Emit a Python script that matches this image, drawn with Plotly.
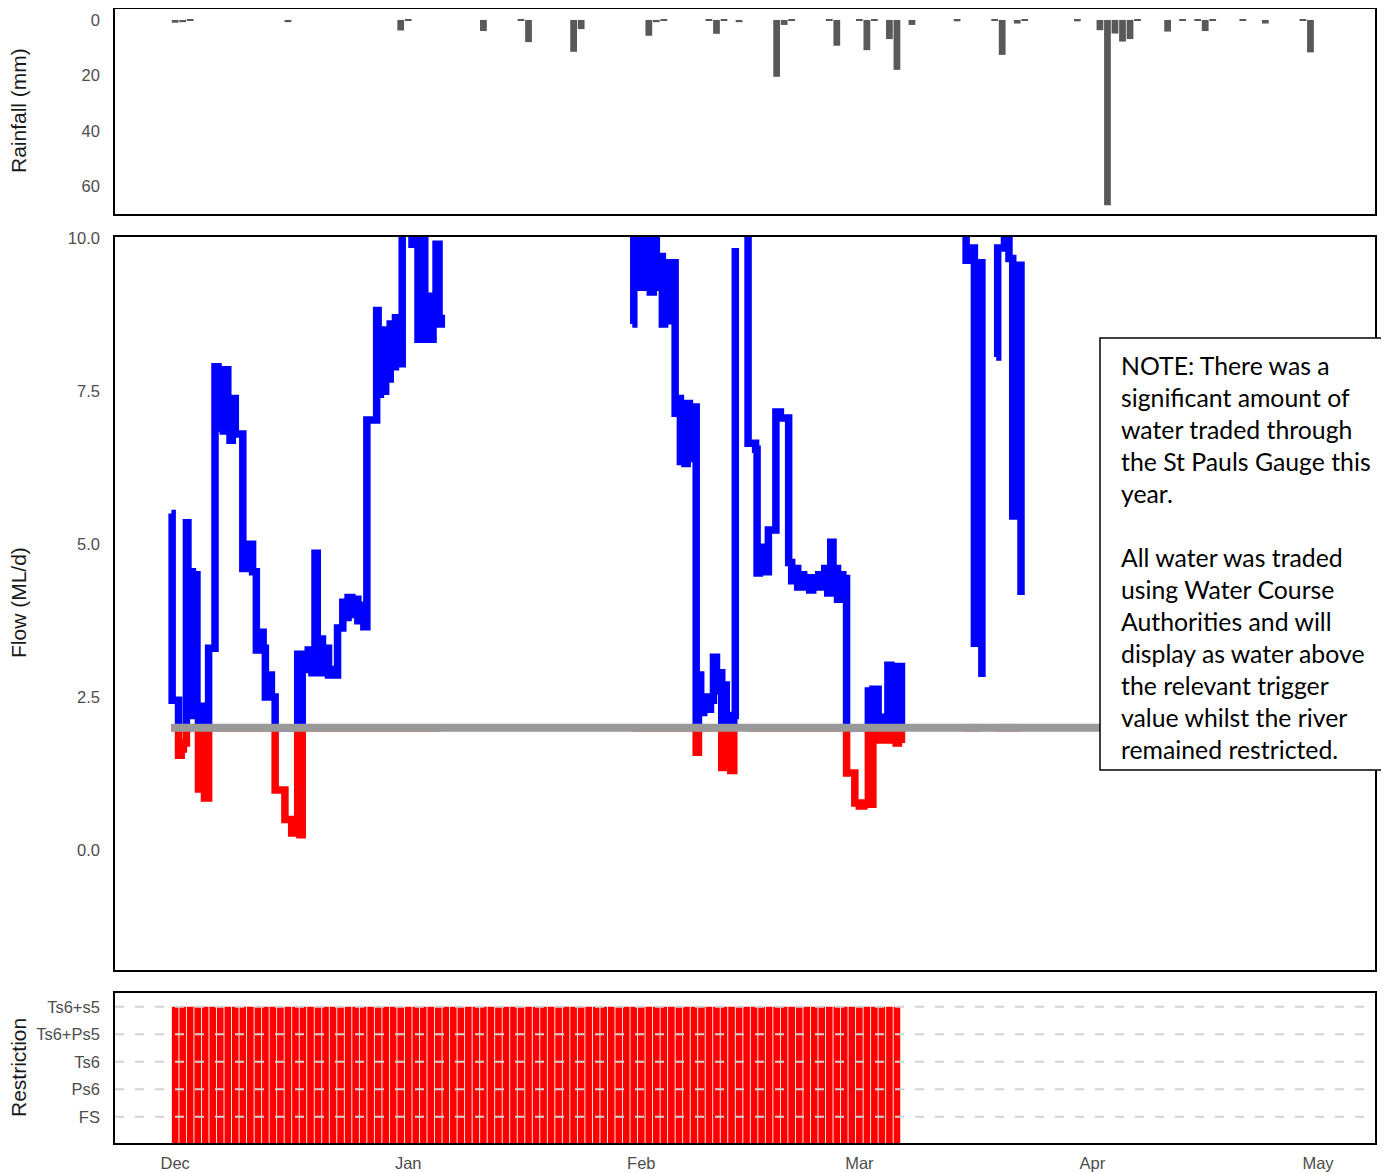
import numpy as np
import pandas as pd
import plotly.graph_objects as go
from plotly.subplots import make_subplots

# daily rainfall (mm)
rain_date = ["2019-12-01", "2019-12-02", "2019-12-03", "2019-12-16", "2019-12-31",
             "2020-01-01", "2020-01-11", "2020-01-16", "2020-01-17", "2020-01-23",
             "2020-01-24", "2020-02-02", "2020-02-03", "2020-02-04", "2020-02-10",
             "2020-02-11", "2020-02-12", "2020-02-14", "2020-02-19", "2020-02-20",
             "2020-02-21", "2020-02-26", "2020-02-27", "2020-03-01", "2020-03-02",
             "2020-03-03", "2020-03-05", "2020-03-06", "2020-03-08", "2020-03-14",
             "2020-03-19", "2020-03-20", "2020-03-22", "2020-03-23", "2020-03-30",
             "2020-04-02", "2020-04-03", "2020-04-04", "2020-04-05", "2020-04-06",
             "2020-04-07", "2020-04-11", "2020-04-13", "2020-04-15", "2020-04-16",
             "2020-04-17", "2020-04-21", "2020-04-24", "2020-04-29", "2020-04-30"]
rain_mm = [1.0, 0.8, 0.4, 0.8, 3.8,
           0.3, 4.0, 0.3, 8.0, 11.5,
           3.3, 5.7, 0.8, 0.3, 0.3,
           5.0, 0.3, 0.8, 20.5, 1.8,
           0.3, 0.3, 9.3, 0.3, 10.9,
           0.3, 6.9, 18.0, 1.8, 0.5,
           0.3, 12.6, 1.3, 0.3, 0.5,
           3.7, 66.8, 4.9, 7.8, 6.9,
           0.3, 4.2, 0.3, 0.3, 4.0,
           0.3, 0.3, 1.3, 0.3, 11.7]

# flow (ML/d), time in days after 1 Dec 2019, None = no data
flow_day = [-0.5, -0.4, 0.45, 0.8, 1.1, 1.5, 1.7, 2.0, 2.3, 2.6, 2.9, 3.1, 3.3, 3.5, 3.7,
            3.9, 4.1, 4.3, 4.45, 5.3, 5.7, 5.9, 6.1, 6.4, 6.7, 7.0, 7.3, 7.6, 8.0, 9.0,
            9.3, 9.6, 9.9, 10.3, 10.8, 11.2, 11.7, 12.0, 12.4, 12.8, 13.3, 14.6, 15.5, 15.9,
            16.3, 16.6, 16.9, 17.3, 17.7, 18.2, 18.6, 18.9, 19.2, 19.6, 20.0, 20.4, 20.8,
            21.2, 21.6, 22.3, 22.7, 23.0, 23.5, 23.9, 24.3, 24.7, 25.1, 25.5, 26.8, 27.0,
            27.3, 27.6, 28.0, 28.3, 28.6, 29.0, 29.3, 29.7, 30.2, 31.5, 31.8, 32.3, 32.7,
            33.2, 33.6, 34.0, 34.3, 34.7, 35.1, 35.4, 35.5,
            60.8, 61.0, 61.5, 61.8, 62.3, 62.7, 63.2, 63.6, 64.0, 64.4, 64.8, 65.1, 65.5,
            65.8, 66.5, 66.9, 67.2, 67.5, 67.8, 68.1, 68.4, 68.7, 69.3, 69.6, 69.9, 70.3,
            70.7, 71.2, 71.6, 72.0, 72.4, 72.7, 73.0, 73.3, 73.6, 73.9, 74.3, 74.5, 74.6,
            76.0, 76.2, 77.2, 77.4, 77.7, 78.0, 78.3, 78.6, 78.9, 79.9, 80.5, 81.6, 82.0,
            82.4, 82.8, 83.2, 83.6, 84.0, 84.4, 84.8, 85.2, 85.6, 86.0, 86.4, 86.8, 87.2,
            87.5, 87.8, 88.1, 88.4, 88.8, 89.3, 90.4, 91.0, 91.6, 92.2, 92.5, 92.8, 93.5,
            93.8, 94.1, 94.4, 94.8, 95.2, 95.5, 95.9, 96.2, 96.6, 96.7,
            104.9, 105.2, 105.8, 106.3, 107.0, 107.3, 107.4,
            109.2, 109.4, 110.3, 110.9, 111.4, 111.6, 112.5, 112.6]
flow_ml = [5.5, 2.45, 1.55, 1.65, 1.75, 5.35, 2.2, 4.55, 2.3, 4.5, 2.2, 1.0, 2.35, 1.0, 2.3,
           0.85, 2.2, 0.85, 3.3, 7.9, 7.85, 6.9, 7.85, 6.85, 7.85, 7.38, 6.7, 7.38, 6.8, 4.6,
           5.0, 4.6, 5.0, 4.55, 3.27, 3.56, 3.3, 2.5, 2.86, 2.5, 0.98, 0.5, 0.28, 0.32,
           3.2, 0.25, 3.2, 2.95, 3.27, 2.9, 4.85, 3.0, 3.45, 2.9, 3.3, 2.86, 2.95,
           2.86, 3.63, 4.05, 3.8, 4.13, 3.85, 4.1, 3.75, 4.0, 3.65, 7.03, 8.82, 7.45,
           8.2, 7.5, 8.5, 7.7, 8.6, 7.9, 8.7, 7.95, 10.3, 9.9, 10.3, 8.35, 10.3,
           8.35, 9.05, 8.35, 8.9, 9.9, 8.6, 8.75, None,
           8.6, 10.3, 9.2, 10.3, 9.2, 10.0, 9.12, 9.97, 9.2, 9.7, 8.6, 9.58, 8.65,
           9.6, 7.14, 7.38, 6.35, 7.3, 6.32, 7.3, 6.4, 7.24, 1.6, 2.86, 2.25, 2.5,
           2.3, 2.45, 3.15, 2.6, 2.9, 1.35, 2.7, 1.35, 2.2, 1.3, 2.2, 9.84, None,
           10.3, 6.65, 6.55, 4.53, 4.95, 4.55, 4.95, 4.55, 5.23, 7.16, 7.06, 4.7, 4.4,
           4.6, 4.3, 4.5, 4.3, 4.45, 4.25, 4.45, 4.3, 4.5, 4.3, 4.6, 4.2, 5.03,
           4.3, 4.6, 4.1, 4.5, 4.44, 1.26, 0.77, 0.72, 0.77, 2.6, 0.75, 2.63, 2.17,
           1.8, 2.17, 1.8, 3.02, 1.8, 3.0, 1.75, 3.0, 1.75, None,
           10.3, 9.64, 9.84, 3.38, 9.6, 2.83, None,
           8.06, 9.84, 10.3, 9.67, 5.46, 9.56, 4.17, None]

trigger_date = ["2019-11-30 12:00", "2020-05-01"]
trigger_ml = [2.0, 2.0]

restriction_levels = ["FS", "Ps6", "Ts6", "Ts6+Ps5", "Ts6+s5"]
restriction_date = pd.date_range("2019-12-01", "2020-03-06", freq="D")
restriction = ["Ts6+s5"] * len(restriction_date)

month_ticks = ["2019-12-01", "2020-01-01", "2020-02-01", "2020-03-01", "2020-04-01", "2020-05-01"]

note_lines = ["NOTE: There was a", "significant amount of", "water traded through",
              "the St Pauls Gauge this", "year.", "", "All water was traded",
              "using Water Course", "Authorities and will", "display as water above",
              "the relevant trigger", "value whilst the river", "remained restricted."]

DAY = 86400000
flow_x = pd.Timestamp("2019-12-01") + pd.to_timedelta(flow_day, unit="D")
flow = np.array(flow_ml, dtype=float)
above = np.maximum(flow, 2.0)
below = np.minimum(flow, 2.0)
restriction_y = [restriction_levels.index(r) + 1 for r in restriction]


# page pixel -> paper coordinates (page body has an 8px margin)
def py(y):
    return (1143 - y) / 1134


def px(x):
    return (x - 115) / 1260


fig = make_subplots(rows=3, cols=1, shared_xaxes=True)

fig.add_trace(go.Bar(x=rain_date, y=rain_mm, width=0.9 * DAY, marker_color="#595959",
                     marker_line_width=0), row=1, col=1)

fig.add_trace(go.Scatter(x=flow_x, y=above, mode="lines", line=dict(color="#0000ff", width=7.5, shape="hv")),
              row=2, col=1)
fig.add_trace(go.Scatter(x=flow_x, y=below, mode="lines", line=dict(color="#ff0000", width=7.5, shape="hv")),
              row=2, col=1)
fig.add_trace(go.Scatter(x=trigger_date, y=trigger_ml, mode="lines", line=dict(color="#999999", width=8)),
              row=2, col=1)

fig.add_trace(go.Bar(x=restriction_date, y=restriction_y, base=0, width=0.88 * DAY,
                     marker_color="#ff0000", marker_line_width=0), row=3, col=1)

tickfont = dict(family="Liberation Sans, Arial", size=16.5, color="#4d4d4d")
frame = dict(showline=True, mirror=True, linecolor="black", linewidth=1.5,
             showgrid=False, zeroline=False, ticks="", automargin=False)

fig.update_xaxes(range=["2019-11-23", "2020-05-08 14:00"], **frame)
fig.update_xaxes(tickvals=month_ticks, tickformat="%b", tickfont=tickfont,
                 ticklabelstandoff=4, row=3, col=1)

fig.update_layout(
    width=1381, height=1165,
    margin=dict(l=107, r=14, t=1, b=30),
    plot_bgcolor="white", paper_bgcolor="white",
    showlegend=False,
    yaxis=dict(domain=[py(214), 1.0], range=[70, -3.95], tickvals=[0, 20, 40, 60],
               tickfont=tickfont, ticklabelstandoff=10, **frame),
    yaxis2=dict(domain=[py(970), py(237)], range=[-1.96, 10.02], tickvals=[0, 2.5, 5, 7.5, 10],
                ticktext=["0.0", "2.5", "5.0", "7.5", "10.0"], tickfont=tickfont,
                ticklabelstandoff=10, **frame),
    yaxis3=dict(domain=[0.0, py(993)], range=[0.05, 5.5], tickvals=[1, 2, 3, 4, 5],
                ticktext=restriction_levels, tickfont=tickfont, ticklabelstandoff=10, **frame),
)

# dashed grid drawn over the restriction bars
for lvl in range(1, 6):
    fig.add_shape(type="line", xref="x3 domain", yref="y3", x0=0, x1=1, y0=lvl, y1=lvl,
                  line=dict(color="#d4d4d4", width=2, dash="9px,11px"), layer="above")

# note box
fig.add_shape(type="rect", xref="paper", yref="paper", x0=px(1100), x1=px(1388), y0=py(770), y1=py(338),
              fillcolor="white", line=dict(color="black", width=1.5), layer="above")
for i, txt in enumerate(note_lines):
    if txt:
        fig.add_annotation(x=px(1119), y=py(365 + i * 32.08), xref="paper", yref="paper",
                           text=txt, showarrow=False, xanchor="left", yanchor="middle",
                           font=dict(family="Lato", size=24.8, color="black"))

# axis titles
titlefont = dict(family="Liberation Sans, Arial", size=21, color="#1a1a1a")
for label, yc in [("Rainfall (mm)", 111), ("Flow (ML/d)", 603), ("Restriction", 1068)]:
    fig.add_annotation(x=px(18), y=py(yc), xref="paper", yref="paper", text=label,
                       textangle=-90, showarrow=False, xanchor="center", yanchor="middle",
                       font=titlefont)

fig.write_html("out.html")
